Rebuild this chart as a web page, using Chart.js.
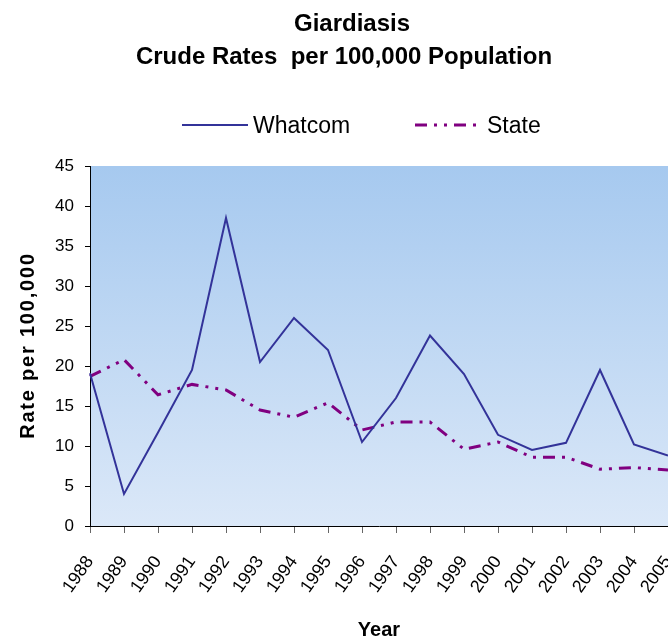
<!DOCTYPE html>
<html>
<head>
<meta charset="utf-8">
<title>Giardiasis</title>
<script src="https://cdn.jsdelivr.net/npm/chart.js@4.4.1/dist/chart.umd.min.js"></script>
<style>
  html, body { margin: 0; padding: 0; background: #ffffff; }
  #wrap { width: 668px; height: 642px; position: relative; overflow: hidden; }
</style>
</head>
<body>
<div id="wrap"><canvas id="giardiaChart" width="668" height="642"></canvas></div>
<script>
// === DATA ===
const years = ["1988","1989","1990","1991","1992","1993","1994","1995","1996",
               "1997","1998","1999","2000","2001","2002","2003","2004","2005"];
const whatcomRates = [19.1, 4.0, 11.7, 19.5, 38.5, 20.5, 26.0, 22.0, 10.5,
                      16.0, 23.8, 19.0, 11.4, 9.5, 10.4, 19.5, 10.2, 8.8];
const stateRates = [18.7, 20.8, 16.4, 17.7, 17.0, 14.5, 13.6, 15.4, 12.0,
                    13.0, 13.0, 9.6, 10.5, 8.6, 8.6, 7.1, 7.3, 7.0];
const titleLines = ["Giardiasis", "Crude Rates  per 100,000 Population"];
const yAxisTitle = "Rate per 100,000";
const xAxisTitle = "Year";

const fontFamily = "'Liberation Sans', Arial, Helvetica, sans-serif";
const navy = "#333399";
const purple = "#800080";
const stateDash = [12, 7, 3, 7, 3, 7];

// === PLOT BACKGROUND (vertical gradient) ===
const plotBackground = {
  id: "plotBackground",
  beforeDraw(chart) {
    const { ctx, chartArea: a } = chart;
    const g = ctx.createLinearGradient(0, a.top, 0, a.bottom);
    g.addColorStop(0, "#a6c9ef");
    g.addColorStop(1, "#dbe8f8");
    ctx.save();
    ctx.fillStyle = g;
    ctx.fillRect(a.left, a.top, a.right - a.left, a.bottom - a.top);
    ctx.restore();
  }
};

// === TITLE, LEGEND AND Y TITLE (placed like the original sheet) ===
const sheetText = {
  id: "sheetText",
  afterDraw(chart) {
    const ctx = chart.ctx;
    ctx.save();
    ctx.fillStyle = "#000";
    ctx.textBaseline = "alphabetic";

    // title
    ctx.textAlign = "center";
    ctx.font = `bold 24px ${fontFamily}`;
    ctx.fillText(titleLines[0], 352, 31);
    ctx.fillText(titleLines[1], 344, 64);

    // legend
    const items = [
      { ds: chart.data.datasets[0], x0: 182, x1: 248, tx: 253 },
      { ds: chart.data.datasets[1], x0: 415, x1: 480, tx: 487 }
    ];
    ctx.textAlign = "left";
    ctx.font = `23px ${fontFamily}`;
    items.forEach((it) => {
      ctx.beginPath();
      ctx.strokeStyle = it.ds.borderColor;
      ctx.lineWidth = it.ds.borderWidth;
      ctx.setLineDash(it.ds.borderDash || []);
      ctx.moveTo(it.x0, 125);
      ctx.lineTo(it.x1, 125);
      ctx.stroke();
      ctx.setLineDash([]);
      ctx.fillText(it.ds.label, it.tx, 133);
    });

    // y axis title
    ctx.translate(33.5, 345.5);
    ctx.rotate(-Math.PI / 2);
    ctx.textAlign = "center";
    ctx.font = `bold 20px ${fontFamily}`;
    ctx.letterSpacing = "1.8px";
    ctx.fillText(yAxisTitle, 0, 0);
    ctx.restore();
  }
};

const ctx = document.getElementById("giardiaChart").getContext("2d");
new Chart(ctx, {
  type: "line",
  data: {
    labels: years,
    datasets: [
      {
        label: "Whatcom",
        data: whatcomRates,
        borderColor: navy,
        borderWidth: 2,
        pointRadius: 0,
        tension: 0,
        fill: false
      },
      {
        label: "State",
        data: stateRates,
        borderColor: purple,
        borderWidth: 3,
        borderDash: stateDash,
        pointRadius: 0,
        tension: 0,
        fill: false
      }
    ]
  },
  options: {
    responsive: false,
    animation: false,
    layout: { padding: { top: 166, left: 0, right: 0, bottom: 0 } },
    plugins: {
      legend: { display: false },
      title: { display: false },
      tooltip: { enabled: false }
    },
    scales: {
      x: {
        offset: false,
        grid: { display: true, drawOnChartArea: false, drawTicks: true, tickLength: 7, tickColor: "#666" },
        border: { display: true, color: "#000", width: 1 },
        ticks: {
          autoSkip: false,
          minRotation: 55,
          maxRotation: 55,
          padding: 19,
          color: "#000",
          font: { family: fontFamily, size: 18 }
        },
        title: {
          display: true,
          text: xAxisTitle,
          color: "#000",
          font: { family: fontFamily, size: 20, weight: "bold" },
          padding: { top: 0, bottom: 0 }
        },
        afterFit(scale) {
          scale.height = 116;
          scale.paddingLeft = 0;
          scale.paddingRight = 0;
        }
      },
      y: {
        min: 0,
        max: 45,
        grid: { display: true, drawOnChartArea: false, drawTicks: true, tickLength: 5, tickColor: "#000" },
        border: { display: true, color: "#000", width: 1 },
        ticks: {
          stepSize: 5,
          padding: 11,
          color: "#000",
          font: { family: fontFamily, size: 17 }
        },
        afterFit(scale) {
          scale.width = 90;
        }
      }
    }
  },
  plugins: [plotBackground, sheetText]
});
</script>
</body>
</html>
